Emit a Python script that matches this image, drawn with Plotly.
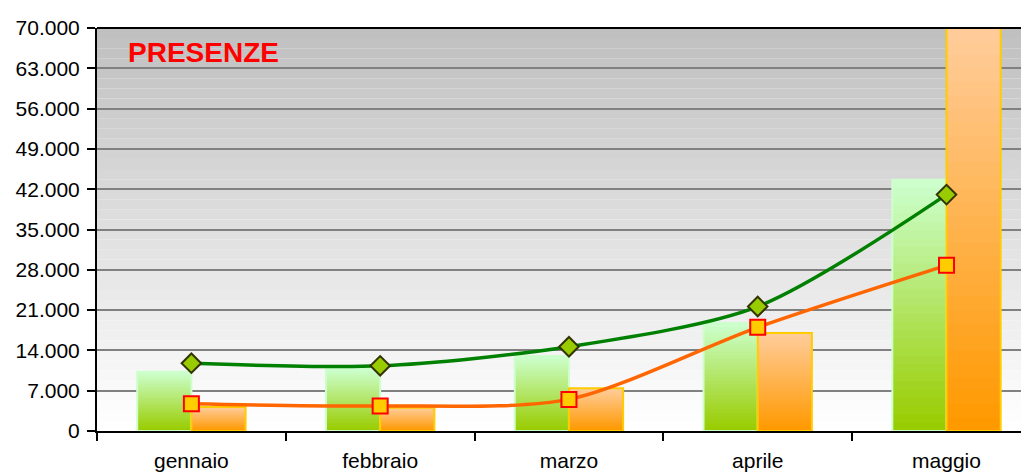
import plotly.graph_objects as go

months = ["gennaio", "febbraio", "marzo", "aprile", "maggio"]
bars_green = [10300, 10750, 13040, 18750, 43630]
bars_orange = [4170, 4060, 7430, 17040, 70000]
line_green = [11780, 11320, 14640, 21620, 41060]
line_orange = [4730, 4340, 5490, 18010, 28770]
y_ticks = list(range(0, 70001, 7000))
title_text = "PRESENZE"

FONT = "Liberation Sans, Arial, sans-serif"
BW = 0.287
N = 30


def lerp(c1, c2, t):
    return "rgb(%d,%d,%d)" % tuple(round(a + (b - a) * t) for a, b in zip(c1, c2))


fig = go.Figure()

# plot-area gradient background
strips = 40
for i in range(strips):
    t = i / (strips - 1)
    fig.add_shape(type="rect", xref="x domain", yref="y domain",
                  x0=0, x1=1, y0=1 - (i + 1) / strips, y1=1 - i / strips,
                  fillcolor=lerp((192, 192, 192), (255, 255, 255), t),
                  line_width=0, layer="below")

# gradient bars built from data (each bar drawn as shrinking layers)
series = [
    (bars_green, -BW, (204, 255, 204), (153, 204, 0), "#ccffcc"),
    (bars_orange, 0.0, (255, 204, 153), (255, 153, 0), "#ffcc00"),
]
for vals, off, ctop, cbot, edge in series:
    for k in range(N):
        f = 1 - k / N
        fig.add_trace(go.Bar(x=months, y=[v * f for v in vals], offset=off, width=BW,
                             marker=dict(color=lerp(ctop, cbot, k / (N - 1)), line_width=0),
                             showlegend=False, hoverinfo="skip"))
    fig.add_trace(go.Bar(x=months, y=vals, offset=off, width=BW,
                         marker=dict(color="rgba(0,0,0,0)", line=dict(color=edge, width=2)),
                         showlegend=False))

fig.add_trace(go.Scatter(x=months, y=line_green, mode="lines+markers",
                         line=dict(color="#008000", width=3.5, shape="spline", smoothing=0.8),
                         marker=dict(symbol="diamond", size=15, color="#99cc00",
                                     line=dict(color="#333300", width=2)),
                         showlegend=False))
fig.add_trace(go.Scatter(x=months, y=line_orange, mode="lines+markers",
                         line=dict(color="#ff6600", width=3.5, shape="spline", smoothing=0.8),
                         marker=dict(symbol="square", size=15, color="#ffcc00",
                                     line=dict(color="#ff0000", width=2)),
                         showlegend=False))

# top border of plot area
fig.add_shape(type="line", xref="x domain", yref="y domain", x0=0, x1=1, y0=1, y1=1,
              line=dict(color="black", width=2))

fig.add_annotation(text="<b>%s</b>" % title_text, xref="paper", yref="paper",
                   x=0.031, y=0.939, xanchor="left", yanchor="middle", showarrow=False,
                   font=dict(family=FONT, size=28, color="#ff0000"))

fig.update_layout(
    width=1029, height=475,
    margin=dict(l=88, r=8, t=15, b=52),
    paper_bgcolor="white", plot_bgcolor="white",
    barmode="overlay",
    separators=",.",
    font=dict(family=FONT, color="black"),
    xaxis=dict(type="category", range=[-0.5, 4.437], showgrid=False,
               showline=True, linecolor="black", linewidth=2,
               ticks="outside", tickson="boundaries", ticklen=8, tickcolor="black", tickwidth=1.5,
               ticklabelstandoff=10,
               tickfont=dict(size=21, family=FONT, color="black"), fixedrange=True),
    yaxis=dict(range=[0, 70000], tickvals=y_ticks, tickformat=",d",
               showgrid=True, gridcolor="#808080", gridwidth=2,
               showline=True, linecolor="black", linewidth=2,
               ticks="outside", ticklen=8, tickcolor="black", tickwidth=1.5,
               ticklabelstandoff=3,
               tickfont=dict(size=21, family=FONT, color="black"),
               zeroline=False, fixedrange=True),
)

fig.write_html("out.html")
